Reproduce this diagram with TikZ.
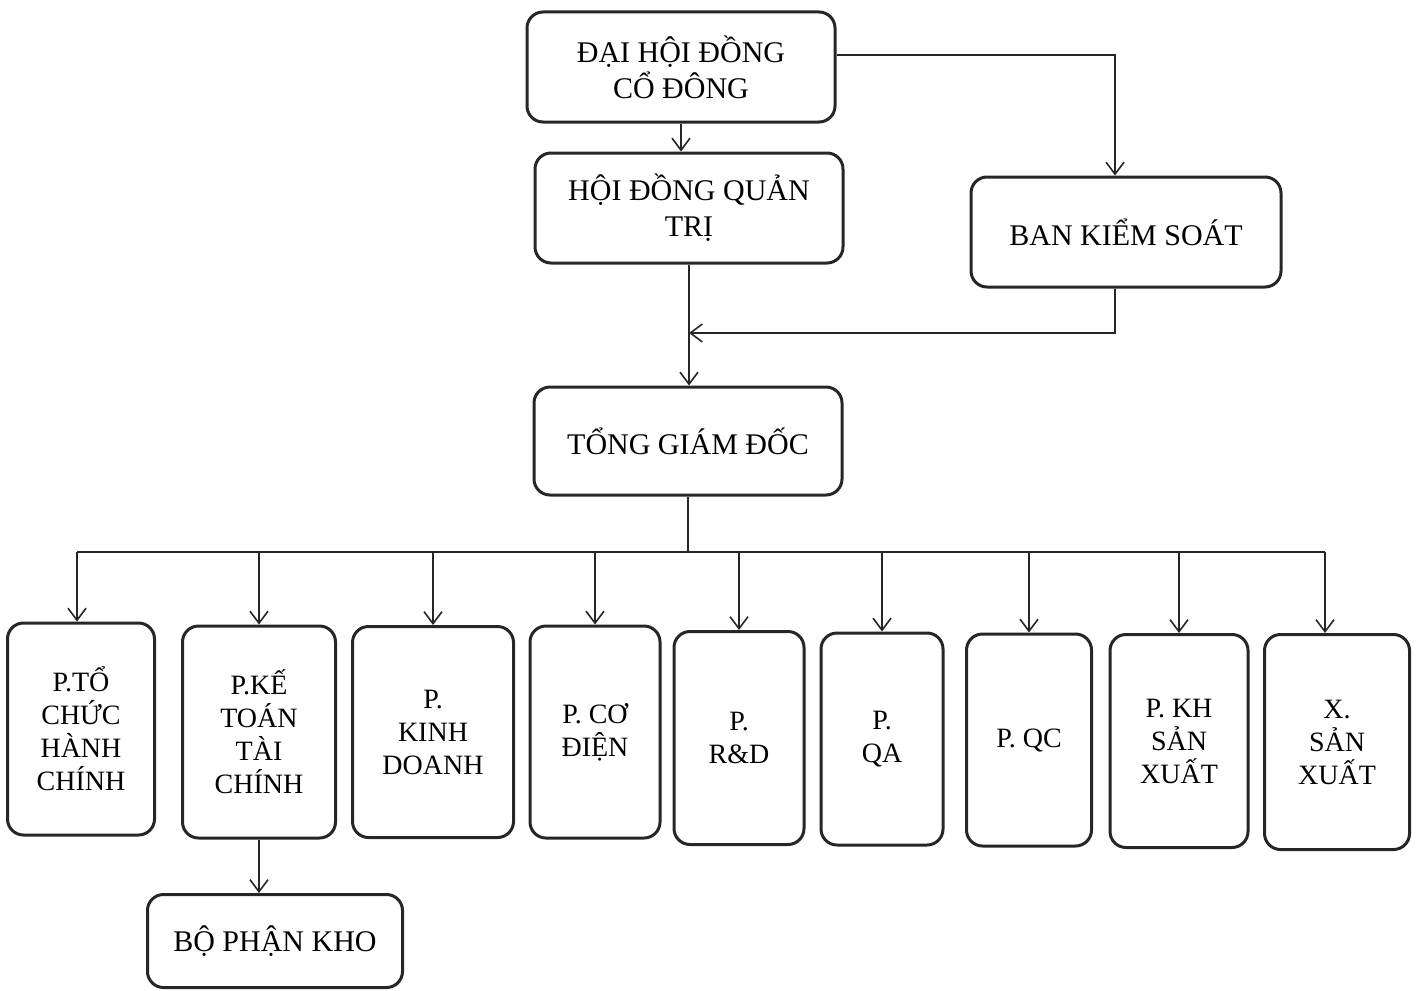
\documentclass[tikz,border=0pt]{standalone}
\usepackage{fontspec}
\setmainfont{Liberation Serif}
\usetikzlibrary{arrows.meta,calc}
\begin{document}
\begin{tikzpicture}[x=0.5pt,y=-0.5pt,
  box/.style={draw=black!85,line width=1.5pt,rounded corners=8pt,inner sep=0pt,align=center},
  topbox/.style={box,font=\fontsize{15}{18}\selectfont},
  dept/.style={box,font=\fontsize{14}{16.5}\selectfont},
  arr/.style={draw=black!85,line width=0.8pt,-{Straight Barb[length=6pt,width=9pt,line width=0.8pt]}},
  ln/.style={draw=black!85,line width=0.8pt}]
\useasboundingbox (0,0) rectangle (1416,990);
\node[topbox,minimum width=154pt,minimum height=55pt] (dh) at (681,67) {ĐẠI HỘI ĐỒNG\\CỔ ĐÔNG};
\node[topbox,minimum width=154pt,minimum height=55pt] (hd) at (689,208) {HỘI ĐỒNG QUẢN\\TRỊ};
\node[topbox,minimum width=155pt,minimum height=55pt] (bks) at (1126,232) {BAN KIỂM SOÁT};
\node[topbox,minimum width=154pt,minimum height=54pt] (tgd) at (688,441) {TỔNG GIÁM ĐỐC};
\node[dept,minimum width=73.5pt,minimum height=106pt] (b1) at (81,729) {P.TỔ\\CHỨC\\HÀNH\\CHÍNH};
\node[dept,minimum width=76.5pt,minimum height=106pt] (b2) at (259,732) {P.KẾ\\TOÁN\\TÀI\\CHÍNH};
\node[dept,minimum width=80.5pt,minimum height=105.5pt] (b3) at (433,732) {P.\\KINH\\DOANH};
\node[dept,minimum width=65pt,minimum height=106pt] (b4) at (595,732) {P. CƠ\\ĐIỆN};
\node[dept,minimum width=65pt,minimum height=106.5pt] (b5) at (739,738) {P.\\R\&D};
\node[dept,minimum width=61pt,minimum height=106pt] (b6) at (882,739) {P.\\QA};
\node[dept,minimum width=62.5pt,minimum height=106pt] (b7) at (1029,740) {P. QC};
\node[dept,minimum width=69pt,minimum height=106.5pt] (b8) at (1179,741) {P. KH\\SẢN\\XUẤT};
\node[dept,minimum width=72.5pt,minimum height=107.5pt] (b9) at (1337,742) {X.\\SẢN\\XUẤT};
\node[topbox,minimum width=127.5pt,minimum height=46.5pt] (kho) at (275,941) {BỘ PHẬN KHO};
\coordinate (bus) at (0,552);
\coordinate (j) at (0,333);
\coordinate (bx) at (1115,0);
\coordinate (x1) at (77,0);
\coordinate (x9) at (1325,0);
\draw[arr] (dh.south) -- (dh.south |- hd.north);
\draw[arr] ($(dh.east)+(0,-12)$) -| (bx |- bks.north);
\draw[arr] (hd.south) -- (hd.south |- tgd.north);
\draw[arr] (bx |- bks.south) |- (hd.south |- j);
\draw[ln] (tgd.south) -- (tgd.south |- bus);
\draw[ln] (x1 |- bus) -- (x9 |- bus);
\draw[arr] (x1 |- bus) -- (x1 |- b1.north);
\foreach \b in {b2,b3,b4,b5,b6,b7,b8}{
  \draw[arr] (\b.north |- bus) -- (\b.north);
}
\draw[arr] (x9 |- bus) -- (x9 |- b9.north);
\draw[arr] (b2.south) -- (b2.south |- kho.north);
\end{tikzpicture}
\end{document}
